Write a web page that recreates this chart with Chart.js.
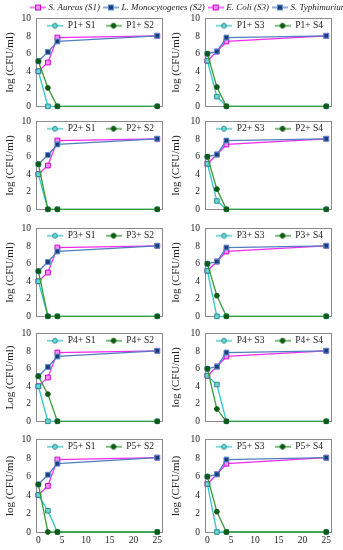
<!DOCTYPE html>
<html><head><meta charset="utf-8">
<script src="https://cdn.jsdelivr.net/npm/chart.js@4.4.0/dist/chart.umd.min.js"></script>
<style>
html,body{margin:0;padding:0;background:#fff;}
#wrap{position:relative;width:343px;height:550px;overflow:hidden;background:#fff;}
#wrap canvas{position:absolute;}
</style></head><body><div id="wrap"></div>
<script>
// ---------------- DATA ----------------
const hours = [0, 2, 4, 25];
const xTickValues = [0, 5, 10, 15, 20, 25];
const yTickValues = [0, 2, 4, 6, 8, 10];
const strainNames = ['S. Aureus (S1)', 'L. Monocytogenes (S2)', 'E. Coli (S3)', 'S. Typhimurium'];

// controls (no phage)
const ctrlS1 = [4.0, 5.0, 7.85, 8.05];
const ctrlS2 = [5.15, 6.2, 7.4, 8.05];
const ctrlS3 = [5.2, 6.25, 7.4, 8.05];
const ctrlS4 = [6.0, 6.25, 7.85, 8.05];

// phage + strain
const p1S1 = [4.0, 0, 0, 0];
const p1S2 = [5.15, 2.1, 0, 0];
const p1S3 = [5.2, 1.1, 0, 0];
const p1S4 = [6.0, 2.2, 0, 0];
const p2S1 = [4.0, 0, 0, 0];
const p2S2 = [5.15, 0, 0, 0];
const p2S3 = [5.2, 0.95, 0, 0];
const p2S4 = [6.0, 2.3, 0, 0];
const p3S1 = [4.0, 0, 0, 0];
const p3S2 = [5.15, 0, 0, 0];
const p3S3 = [5.2, 0, 0, 0];
const p3S4 = [6.0, 2.35, 0, 0];
const p4S1 = [4.0, 0, 0, 0];
const p4S2 = [5.15, 3.1, 0, 0];
const p4S3 = [5.2, 4.2, 0, 0];
const p4S4 = [6.0, 1.4, 0, 0];
const p5S1 = [4.0, 2.3, 0, 0];
const p5S2 = [5.15, 0, 0, 0];
const p5S3 = [5.2, 0, 0, 0];
const p5S4 = [6.0, 2.2, 0, 0];

const leftLegend = [['P1+ S1', 'P1+ S2'], ['P2+ S1', 'P2+ S2'], ['P3+ S1', 'P3+ S2'], ['P4+ S1', 'P4+ S2'], ['P5+ S1', 'P5+ S2']];
const rightLegend = [['P1+ S3', 'P1+ S4'], ['P2+ S3', 'P2+ S4'], ['P3+ S3', 'P3+ S4'], ['P4+ S3', 'P4+ S4'], ['P5+ S3', 'P5+ S4']];
const leftTitles = ['log (CFU/ml)', 'log (CFU/ml)', 'log (CFU/ml)', 'Log (CFU/ml)', 'log (CFU/ml)'];
const rightTitles = ['log (CFU/ml)', 'log (CFU/ml)', 'log (CFU/ml)', 'log (CFU/ml)', 'log (CFU/ml)'];

// ---------------- STYLE / LAYOUT ----------------
const FONT = "'Liberation Serif', 'DejaVu Serif', serif";
const TXT = '#222';
const BOX = '#8a8a8a';
const C = {
  mag:  {line: '#f02cf0', fill: '#ff8cff', stroke: '#d000d0', shape: 'rect', r: 3.4},
  blue: {line: '#4f7fc0', fill: '#1c3d78', stroke: '#5b8fd0', shape: 'rect', r: 3.4},
  cyan: {line: '#2ec6c6', fill: '#6ad8d8', stroke: '#2a8c8c', shape: 'rect', r: 3.2},
  green:{line: '#3a9a3a', fill: '#0f5a14', stroke: '#0f5a14', shape: 'circle', r: 2.4}
};
Chart.defaults.font.family = FONT;
Chart.defaults.color = TXT;

const wrap = document.getElementById('wrap');
function mkCanvas(left, top, w, h) {
  const c = document.createElement('canvas');
  c.width = w; c.height = h;
  c.style.left = left + 'px'; c.style.top = top + 'px';
  c.style.width = w + 'px'; c.style.height = h + 'px';
  wrap.appendChild(c);
  return c;
}
function swatch(st, shape, w, h) {
  const c = document.createElement('canvas');
  c.width = w; c.height = h;
  const g = c.getContext('2d');
  g.strokeStyle = st.line; g.lineWidth = 1.3;
  g.beginPath(); g.moveTo(0, h / 2); g.lineTo(w, h / 2); g.stroke();
  g.fillStyle = st.fill; g.strokeStyle = st.stroke; g.lineWidth = 1;
  if (shape === 'rect') {
    g.fillRect(w / 2 - 2.5, h / 2 - 2.5, 5, 5);
    g.strokeRect(w / 2 - 2.5, h / 2 - 2.5, 5, 5);
  } else {
    g.beginPath(); g.arc(w / 2, h / 2, 2.4, 0, Math.PI * 2); g.fill(); g.stroke();
  }
  return c;
}
function series(vals, st, label, order) {
  return {
    label: label,
    data: hours.map((h, i) => ({x: h, y: vals[i]})),
    borderColor: st.line, borderWidth: 1.3,
    pointStyle: st.shape, pointRadius: st.r,
    pointBackgroundColor: st.fill, pointBorderColor: st.stroke, pointBorderWidth: 1,
    tension: 0, clip: false, order: order
  };
}
function legendOnly(canvas, labels, imgs, opts) {
  return new Chart(canvas, {
    type: 'line',
    data: {datasets: labels.map(l => ({label: l, data: []}))},
    options: {
      responsive: false, animation: false,
      layout: {padding: 0},
      scales: {x: {display: false}, y: {display: false}},
      plugins: {
        tooltip: {enabled: false},
        legend: {
          display: true, position: 'top', align: 'start', maxHeight: 60,
          labels: {
            usePointStyle: true, pointStyleWidth: opts.boxW, padding: opts.pad,
            font: opts.font, color: TXT,
            generateLabels: ch => ch.data.datasets.map((d, i) => ({
              text: d.label, pointStyle: imgs[i], fillStyle: 'rgba(0,0,0,0)', strokeStyle: 'rgba(0,0,0,0)',
              lineWidth: 0, hidden: false, datasetIndex: i, fontColor: TXT
            }))
          }
        }
      }
    }
  });
}

const rowTops = [16, 119, 226, 331, 437];
const plotH = 95;
const cols = [
  {canvasLeft: 0, canvasW: 168, yW: 36, padR: 6, boxLeft: 36},
  {canvasLeft: 168, canvasW: 175, yW: 37, padR: 12, boxLeft: 205}
];

function panel(row, col, ctrlA, ctrlB, phA, phB, names, title) {
  const cc = cols[col];
  const bottom = row === 4;
  const top = rowTops[row] - 8;
  const h = 8 + plotH + (bottom ? 16 : 6);
  const cv = mkCanvas(cc.canvasLeft, top, cc.canvasW, h);
  new Chart(cv, {
    type: 'line',
    data: {datasets: [
      series(phB, C.green, names[1], 0),
      series(phA, C.cyan, names[0], 1),
      series(ctrlB, C.blue, 'ctrlB', 2),
      series(ctrlA, C.mag, 'ctrlA', 3)
    ]},
    options: {
      responsive: false, animation: false,
      layout: {padding: {top: 8, right: cc.padR, bottom: bottom ? 0 : 6, left: 0}},
      plugins: {legend: {display: false}, tooltip: {enabled: false}},
      scales: {
        x: {
          type: 'linear', position: 'bottom', min: -0.5, max: 26,
          afterBuildTicks: s => { s.ticks = xTickValues.map(v => ({value: v})); },
          ticks: {display: bottom, font: {size: 9.5, family: FONT}, color: TXT, padding: 3, maxRotation: 0, autoSkip: false},
          grid: {display: false, drawTicks: false},
          border: {display: true, color: BOX, width: 1},
          afterFit: s => { s.height = bottom ? 16 : 0; }
        },
        y: {
          type: 'linear', position: 'left', min: 0, max: 10,
          afterBuildTicks: s => { s.ticks = yTickValues.map(v => ({value: v})); },
          ticks: {font: {size: 9.5, family: FONT}, color: TXT, padding: 5},
          grid: {display: false, drawTicks: false},
          border: {display: true, color: BOX, width: 1},
          title: {display: true, text: title, font: {size: 11, family: FONT}, color: TXT, padding: {top: col ? 2 : 4, bottom: 0}},
          afterFit: s => { s.width = cc.yW; }
        },
        x2: {
          type: 'linear', position: 'top', min: -0.5, max: 26, display: true,
          ticks: {display: false}, grid: {display: false, drawTicks: false},
          border: {display: true, color: BOX, width: 1},
          afterFit: s => { s.height = 0; }
        },
        y2: {
          type: 'linear', position: 'right', min: 0, max: 10, display: true,
          ticks: {display: false}, grid: {display: false, drawTicks: false},
          border: {display: true, color: BOX, width: 1},
          afterFit: s => { s.width = 0; }
        }
      }
    }
  });
  // in-panel legend
  const lg = mkCanvas(cc.boxLeft + 1, rowTops[row] - 5, 180, 34);
  legendOnly(lg, names, [swatch(C.cyan, 'circle', 16, 8), swatch(C.green, 'circle', 16, 8)],
    {boxW: 16, pad: 10, font: {size: 9.5, family: FONT}});
}

const leftSets = [[p1S1, p1S2], [p2S1, p2S2], [p3S1, p3S2], [p4S1, p4S2], [p5S1, p5S2]];
const rightSets = [[p1S3, p1S4], [p2S3, p2S4], [p3S3, p3S4], [p4S3, p4S4], [p5S3, p5S4]];
for (let r = 0; r < 5; r++) {
  panel(r, 0, ctrlS1, ctrlS2, leftSets[r][0], leftSets[r][1], leftLegend[r], leftTitles[r]);
  panel(r, 1, ctrlS3, ctrlS4, rightSets[r][0], rightSets[r][1], rightLegend[r], rightTitles[r]);
}

// top legend
const topImgs = [swatch(C.mag, 'rect', 16, 8), swatch(C.blue, 'rect', 16, 8), swatch(C.mag, 'rect', 16, 8), swatch(C.blue, 'rect', 16, 8)];
const tl = mkCanvas(27, -2, 460, 30);
legendOnly(tl, strainNames, topImgs, {boxW: 12, pad: 5, font: {size: 9, style: 'italic', family: FONT}});
</script>
</body></html>
